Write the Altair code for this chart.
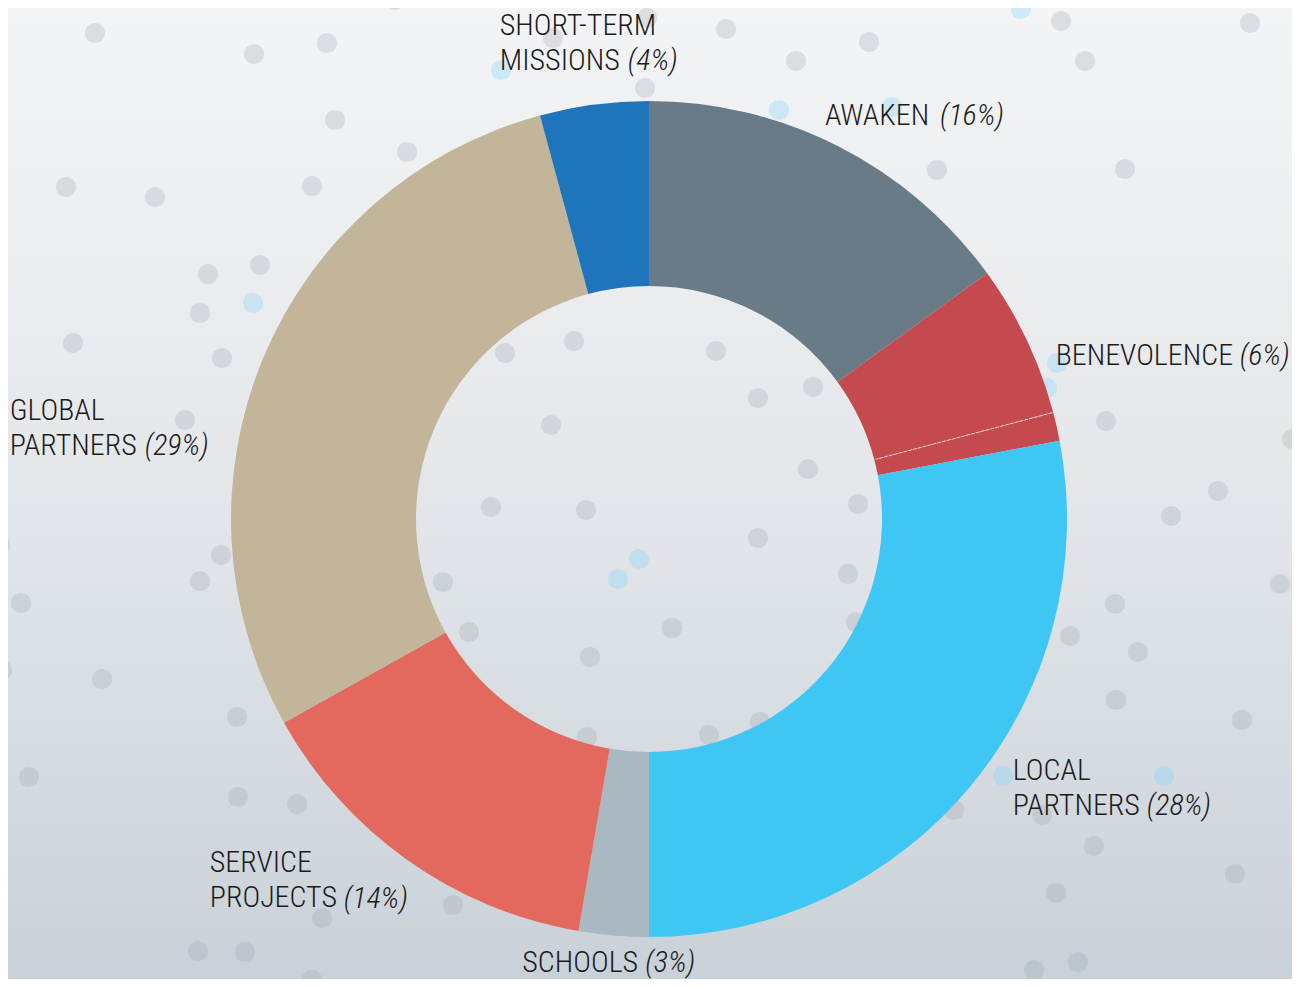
import altair as alt
import pandas as pd

# ---------------- data ----------------
categories = ["AWAKEN", "BENEVOLENCE", "BENEVOLENCE", "LOCAL PARTNERS", "SCHOOLS",
              "SERVICE PROJECTS", "GLOBAL PARTNERS", "SHORT-TERM MISSIONS"]
values = [15.0, 5.9, 1.1, 28.0, 2.7, 14.2, 28.9, 4.2]
colors = ["#687b86", "#c44a4f", "#c44a4f", "#3ec7f4", "#a9b8c1",
          "#e3695f", "#c3b599", "#1f75bb"]
name_labels = ["AWAKEN", "BENEVOLENCE", "", "LOCAL\nPARTNERS", "SCHOOLS",
               "SERVICE\nPROJECTS", "GLOBAL\nPARTNERS", "SHORT-TERM\nMISSIONS"]
pct_labels = ["(16%)", "(6%)", "", "(28%)", "(3%)", "(14%)", "(29%)", "(4%)"]

# decorative background dots (page coordinates)
gray_dot_x = [163, 95, 254, 327, 395, 726, 796, 869, 1061, 1085, 1250, 645, 335, 407, 312, 155, 66,
              937, 1125, 208, 260, 200, 73, 222, 185, 1106, 1292, 1218, 1171, 221, 200, 21, 1280,
              1115, 1070, 1138, 2, 102, 1116, 1242, 237, 29, 238, 297, 954, 1042, 1094, 1235, 1056,
              453, 322, 198, 245, 312, 1034, 1078, 0, 647, 553,
              505, 574, 716, 758, 813, 551, 808, 858, 491, 586, 758, 443, 848, 469, 672, 590, 856,
              587, 709, 760]
gray_dot_y = [-2, 33, 54, 43, 0, 29, 61, 42, 21, 61, 23, 88, 120, 152, 186, 197, 187,
              170, 169, 274, 265, 313, 343, 358, 420, 421, 439, 491, 516, 555, 581, 603, 584,
              604, 636, 652, 670, 679, 700, 720, 717, 777, 797, 804, 810, 815, 846, 874, 893,
              905, 918, 951, 952, 980, 970, 962, 545, 18, 38,
              353, 341, 351, 398, 387, 425, 469, 504, 507, 510, 538, 582, 574, 632, 628, 657, 622,
              737, 735, 722]
blue_dot_x = [1021, 501, 779, 892, 253, 1057, 1047, 639, 618, 1003, 1164]
blue_dot_y = [9, 70, 110, 107, 303, 363, 388, 559, 579, 776, 776]

# ---------------- layout / style ----------------
W, H = 1284, 971
CX, CY = 641, 511
R_IN, R_OUT = 233, 418
R_LAB = 480
FONT = "Roboto Condensed, Liberation Sans Narrow, DejaVu Sans Condensed, Roboto, sans-serif"
FS = 30
LH = 35
TXT = "#1b1b1b"

# per-label offsets from the polar anchor: (name dx, name dy, pct dx, pct dy)
label_layout = {
    0: (-42, 34, 73, 34),
    1: (-27, 52, 157, 52),
    3: (-6, -45, 128, -10),
    4: (-86, -25, 37, -25),
    5: (-162, -39, -28, -3),
    6: (-197, 87, -62, 122),
    7: (-86, -8, 42, 27),
}

slices = pd.DataFrame({
    "idx": list(range(len(values))),
    "category": categories,
    "value": values,
    "color": colors,
    "name": name_labels,
    "pct": pct_labels,
})

dots = pd.DataFrame({
    "x": gray_dot_x + blue_dot_x,
    "y": gray_dot_y + blue_dot_y,
    "kind": ["gray"] * len(gray_dot_x) + ["blue"] * len(blue_dot_x),
})

bg = alt.Chart(pd.DataFrame({"a": [0]})).mark_rect(
    color=alt.Gradient(
        gradient="linear", x1=0, x2=0, y1=0, y2=1,
        stops=[alt.GradientStop(color="#f3f4f6", offset=0),
               alt.GradientStop(color="#e4e7ea", offset=0.5),
               alt.GradientStop(color="#c9d1d8", offset=1)],
    )
).encode(x=alt.value(0), x2=alt.value(W), y=alt.value(0), y2=alt.value(H))

dot_layer = alt.Chart(dots).mark_circle(size=410, opacity=0.28).encode(
    x=alt.X("x:Q", scale=alt.Scale(domain=[8, 8 + W], range=[0, W]), axis=None),
    y=alt.Y("y:Q", scale=alt.Scale(domain=[8, 8 + H], range=[0, H]), axis=None),
    color=alt.Color("kind:N", scale=alt.Scale(domain=["gray", "blue"],
                                              range=["#9ea7ae", "#70cfff"]), legend=None),
)

base = alt.Chart(slices)
theta = alt.Theta("value:Q", stack=True)
order = alt.Order("idx:Q", sort="ascending")

arcs = base.mark_arc(innerRadius=R_IN, outerRadius=R_OUT, strokeWidth=0).encode(
    theta=theta,
    order=order,
    color=alt.Color("color:N", scale=None),
    detail="idx:N",
    x=alt.value(CX),
    y=alt.value(CY),
)

divider = base.transform_window(
    cum="sum(value)", sort=[alt.SortField("idx")]
).transform_filter("datum.idx == 1").mark_arc(
    innerRadius=R_IN + 2, outerRadius=R_OUT - 1, fillOpacity=0, stroke="white",
    strokeWidth=0.8, strokeDash=[2, 3], strokeOpacity=0.9
).encode(
    theta=alt.Theta("cum:Q"), theta2="cum:Q", x=alt.value(CX), y=alt.value(CY)
)

layers = [bg, dot_layer, arcs, divider]
for i, (ndx, ndy, pdx, pdy) in label_layout.items():
    name_t = base.transform_calculate(
        t=f"datum.idx == {i} ? datum.name : ''"
    ).mark_text(
        align="left", baseline="alphabetic", radius=R_LAB, dx=ndx, dy=ndy,
        font=FONT, fontSize=FS, fontWeight=300, lineHeight=LH, lineBreak="\n", color=TXT
    ).encode(theta=theta, order=order, detail="idx:N", text="t:N",
             x=alt.value(CX), y=alt.value(CY))
    pct_t = base.transform_calculate(
        t=f"datum.idx == {i} ? datum.pct : ''"
    ).mark_text(
        align="left", baseline="alphabetic", radius=R_LAB, dx=pdx, dy=pdy,
        font=FONT, fontSize=FS, fontWeight=300, fontStyle="italic", color=TXT
    ).encode(theta=theta, order=order, detail="idx:N", text="t:N",
             x=alt.value(CX), y=alt.value(CY))
    layers += [name_t, pct_t]

chart = alt.layer(*layers).properties(
    width=W, height=H, padding=0, autosize=alt.AutoSizeParams(type="none")
).configure_view(stroke=None).resolve_scale(theta="shared")

chart.save("out.html", embed_options={"renderer": "svg", "actions": False})
